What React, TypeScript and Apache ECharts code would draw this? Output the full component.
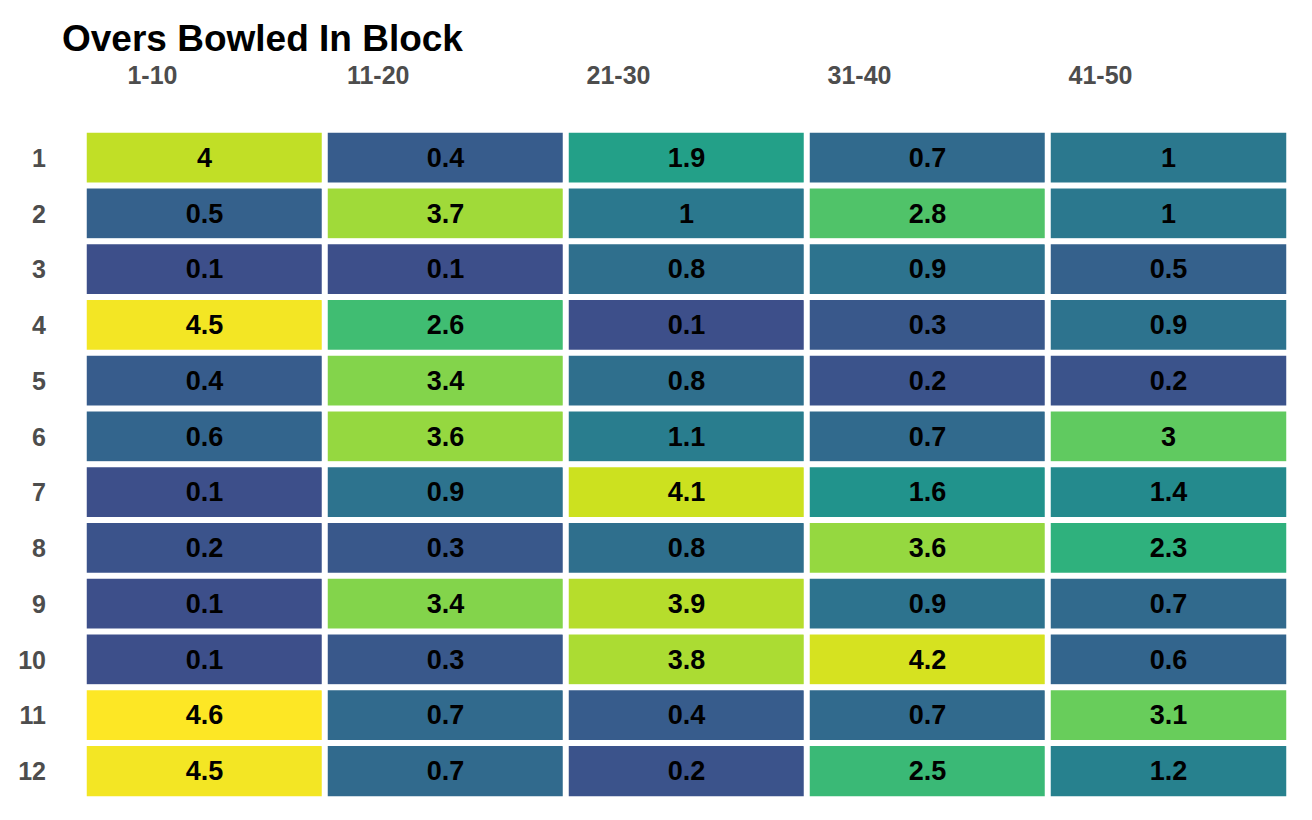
import React, { useEffect, useRef } from "react";
import * as echarts from "echarts";

const blocks = ["1-10", "11-20", "21-30", "31-40", "41-50"];
const bowlers = ["1", "2", "3", "4", "5", "6", "7", "8", "9", "10", "11", "12"];

const block1 = [4, 0.5, 0.1, 4.5, 0.4, 0.6, 0.1, 0.2, 0.1, 0.1, 4.6, 4.5];
const block2 = [0.4, 3.7, 0.1, 2.6, 3.4, 3.6, 0.9, 0.3, 3.4, 0.3, 0.7, 0.7];
const block3 = [1.9, 1, 0.8, 0.1, 0.8, 1.1, 4.1, 0.8, 3.9, 3.8, 0.4, 0.2];
const block4 = [0.7, 2.8, 0.9, 0.3, 0.2, 0.7, 1.6, 3.6, 0.9, 4.2, 0.7, 2.5];
const block5 = [1, 1, 0.5, 0.9, 0.2, 3, 1.4, 2.3, 0.7, 0.6, 3.1, 1.2];

const blockValues = [block1, block2, block3, block4, block5];

const viridisStops = [
  "#3d4f8a", "#33658d", "#297d8e", "#21938c", "#24a985",
  "#40bd72", "#68cd5b", "#95d840", "#cce11f", "#fde725",
];

export default function App() {
  const ref = useRef<HTMLDivElement>(null);

  useEffect(() => {
    if (!ref.current) return;
    document.body.style.margin = "0";
    const chart = echarts.init(ref.current, null, { renderer: "svg" });
    const data: [number, number, number][] = [];
    blockValues.forEach((col, ci) => {
      col.forEach((v, ri) => data.push([ci, ri, v]));
    });
    const font = "'Liberation Sans', Arial, Helvetica, sans-serif";
    chart.setOption({
      animation: false,
      backgroundColor: "#ffffff",
      textStyle: { fontFamily: font },
      title: {
        text: "Overs Bowled In Block",
        left: 57,
        top: 15,
        textStyle: { fontFamily: font, fontSize: 37, fontWeight: "bold", color: "#000000" },
      },
      grid: { left: 84, right: 23, top: 130, bottom: 21 },
      xAxis: {
        type: "category",
        data: blocks,
        position: "top",
        axisLine: { show: false },
        axisTick: { show: false },
        splitLine: { show: false },
        axisLabel: {
          margin: 43,
          align: "right",
          formatter: (v: string, i: number) => (i === 0 ? `{a|${v}}` : `{b|${v}}`),
          rich: {
            a: { fontFamily: font, fontSize: 25, fontWeight: "bold", color: "#4d4d4d", padding: [0, 27, 0, 0] },
            b: { fontFamily: font, fontSize: 25, fontWeight: "bold", color: "#4d4d4d", padding: [0, 36, 0, 0] },
          },
        },
      },
      yAxis: {
        type: "category",
        data: bowlers,
        inverse: true,
        axisLine: { show: false },
        axisTick: { show: false },
        splitLine: { show: false },
        axisLabel: {
          margin: 38,
          fontFamily: font,
          fontSize: 25,
          fontWeight: "bold",
          color: "#4d4d4d",
        },
      },
      visualMap: {
        show: false,
        type: "continuous",
        dimension: 2,
        min: 0.1,
        max: 4.6,
        inRange: { color: viridisStops },
      },
      series: [
        {
          type: "heatmap",
          data,
          itemStyle: { borderColor: "#ffffff", borderWidth: 6 },
          label: {
            show: true,
            formatter: (p: any) => String(p.value[2]),
            fontFamily: font,
            fontSize: 27,
            fontWeight: "bold",
            color: "#000000",
          },
          emphasis: { disabled: true },
        },
      ],
    });
    return () => chart.dispose();
  }, []);

  return <div ref={ref} style={{ width: 1312, height: 820 }} />;
}
